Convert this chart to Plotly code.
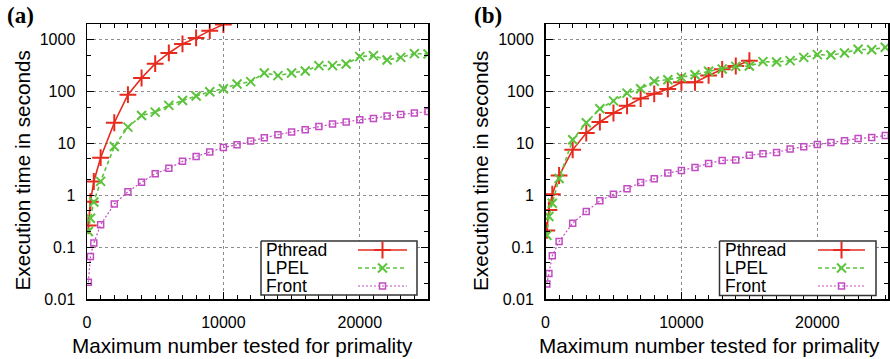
import plotly.graph_objects as go

# ---------------- data ----------------
x_vals = [100, 250, 500, 1000, 2000, 3000, 4000, 5000, 6000, 7000, 8000, 9000, 10000,
          11000, 12000, 13000, 14000, 15000, 16000, 17000, 18000, 19000, 20000,
          21000, 22000, 23000, 24000, 25000]

a_pthread = [0.26, 0.75, 1.84, 5.3, 25, 87, 182, 344, 553, 826, 1080, 1490, 1950]
a_lpel = [0.2, 0.36, 0.74, 1.85, 8.7, 20.6, 34.5, 40, 54, 67, 82, 99, 113,
          139, 155, 228, 202, 228, 248, 315, 315, 340, 470, 492, 405, 455, 537, 530]
a_front = [0.021, 0.066, 0.12, 0.27, 0.68, 1.17, 1.78, 2.6, 3.3, 4.5, 5.6, 6.8, 8.3,
           9.4, 11.1, 12.8, 14.7, 16.5, 18.3, 21.2, 23.6, 25.8, 28.6, 30.3, 33.6, 36, 38.5, 41]

b_pthread = [0.21, 0.52, 1.05, 2.4, 7.5, 15.8, 25.8, 38.5, 53, 73, 90, 112, 150,
             150, 204, 268, 310, 393]
b_lpel = [0.17, 0.39, 0.70, 2.1, 11.7, 25, 46.5, 66, 93, 113, 157, 169, 187,
          211, 245, 272, 305, 310, 376, 370, 393, 455, 513, 505, 553, 650, 640, 710]
b_front = [0.0195, 0.031, 0.068, 0.128, 0.29, 0.485, 0.78, 1.05, 1.33, 1.76, 2.07, 2.67, 3.0,
           3.43, 4.1, 4.7, 4.8, 5.9, 6.3, 6.7, 7.8, 8.6, 9.5, 10.4, 11.2, 12.4, 13, 14.2]

series_names = ["Pthread", "LPEL", "Front"]
y_tickvals = [0.01, 0.1, 1, 10, 100, 1000]
y_ticktext = ["0.01", "0.1", "1", "10", "100", "1000"]
x_tickvals = [0, 10000, 20000]
x_ticktext = ["0", "10000", "20000"]
panel_labels = ["(a)", "(b)"]
x_title = "Maximum number tested for primality"
y_title = "Execution time in seconds"

# ---------------- styles ----------------
W, H = 890, 359
RED = "#e62a1e"
GREEN = "#5cc43c"
MAG = "#c24cc2"
styles = {
    "Pthread": dict(line=dict(color=RED, width=1.6, dash="solid"),
                    marker=dict(symbol="cross-thin", size=12, color=RED,
                                line=dict(color=RED, width=2))),
    "LPEL": dict(line=dict(color=GREEN, width=1.6, dash="4px,3px"),
                 marker=dict(symbol="x-thin", size=9, color=GREEN,
                             line=dict(color=GREEN, width=2))),
    "Front": dict(line=dict(color=MAG, width=1.2, dash="2px,2px"),
                  marker=dict(symbol="square-open", size=6, color=MAG,
                              line=dict(color=MAG, width=1.5))),
}

FONT = "Liberation Sans, Arial, sans-serif"

fig = go.Figure()

panels = [
    dict(xa="x", ya="y", data=[a_pthread, a_lpel, a_front]),
    dict(xa="x2", ya="y2", data=[b_pthread, b_lpel, b_front]),
]
for p in panels:
    for name, vals in zip(series_names, p["data"]):
        fig.add_trace(go.Scatter(x=x_vals[:len(vals)], y=vals, mode="lines+markers",
                                 name=name, xaxis=p["xa"], yaxis=p["ya"],
                                 showlegend=False, **styles[name]))

# plot areas in pixels
left_px = (87, 428)
right_px = (545.5, 888)
top_px, bot_px = 24, 299

def fx(px):
    return px / W

def fy(py):
    return (H - py) / H

common_x = dict(
    type="linear", showline=True, linecolor="black", linewidth=1.5, mirror="allticks",
    ticks="inside", ticklen=7, tickwidth=1, tickcolor="black",
    tickvals=x_tickvals, ticktext=x_ticktext, automargin=False,
    showgrid=True, gridcolor="#8c8c8c", griddash="dot", gridwidth=1.2,
    zeroline=False, tickfont=dict(family=FONT, size=16, color="black"),
    ticklabelstandoff=8,
    minor=dict(ticks="inside", ticklen=4, tickcolor="black", dtick=1000, showgrid=False),
)
common_y = dict(
    type="log", showline=True, linecolor="black", linewidth=1.5, mirror="allticks",
    ticks="inside", ticklen=7, tickwidth=1, tickcolor="black",
    tickvals=y_tickvals, ticktext=y_ticktext, range=[-2, 3.301], automargin=False,
    showgrid=True, gridcolor="#8c8c8c", griddash="dot", gridwidth=1.2,
    zeroline=False, tickfont=dict(family=FONT, size=16, color="black"),
    ticklabelstandoff=7,
    minor=dict(ticks="inside", ticklen=4, tickcolor="black", showgrid=False),
)

fig.update_layout(
    width=W, height=H,
    margin=dict(l=0, r=0, t=0, b=0, pad=0, autoexpand=False),
    paper_bgcolor="white", plot_bgcolor="rgba(0,0,0,0)",
    showlegend=False,
    xaxis=dict(common_x, domain=[fx(left_px[0]), fx(left_px[1])], range=[0, 25000], anchor="y"),
    yaxis=dict(common_y, domain=[fy(bot_px), fy(top_px)], anchor="x"),
    xaxis2=dict(common_x, domain=[fx(right_px[0]), fx(right_px[1])], range=[0, 25200], anchor="y2"),
    yaxis2=dict(common_y, domain=[fy(bot_px), fy(top_px)], anchor="x2"),
    xaxis3=dict(domain=[0, 1], range=[0, W], visible=False, anchor="y3", fixedrange=True,
                automargin=False, showticklabels=False, showgrid=False, zeroline=False),
    yaxis3=dict(domain=[0, 1], range=[H, 0], visible=False, anchor="x3", fixedrange=True,
                automargin=False, showticklabels=False, showgrid=False, zeroline=False),
)

# ---------------- legends (drawn manually, gnuplot style) ----------------
legend_boxes = [
    dict(box=(261, 417, 241, 295), text_x=265, line=(358, 407)),
    dict(box=(719.5, 876, 241, 295.5), text_x=724, line=(818, 865)),
]
row_y = [250, 268, 286]
annotations = []
for lb in legend_boxes:
    x0, x1, y0, y1 = lb["box"]
    fig.add_trace(go.Scatter(x=[x0, x1, x1, x0, x0], y=[y0, y0, y1, y1, y0],
                             mode="lines", fill="toself", fillcolor="white",
                             line=dict(color="#333333", width=1.5),
                             xaxis="x3", yaxis="y3", hoverinfo="skip", showlegend=False))
    for name, ry in zip(series_names, row_y):
        lx0, lx1 = lb["line"]
        st = styles[name]
        fig.add_trace(go.Scatter(x=[lx0, lx1], y=[ry, ry], mode="lines",
                                 line=st["line"], xaxis="x3", yaxis="y3",
                                 hoverinfo="skip", showlegend=False))
        fig.add_trace(go.Scatter(x=[(lx0 + lx1) / 2], y=[ry], mode="markers",
                                 marker=st["marker"], xaxis="x3", yaxis="y3",
                                 hoverinfo="skip", showlegend=False))
        annotations.append(dict(x=fx(lb["text_x"]), y=fy(ry), xref="paper", yref="paper",
                                text=name, showarrow=False, xanchor="left", yanchor="middle",
                                borderpad=0,
                                font=dict(family=FONT, size=17.5, color="black")))

# axis titles and panel labels
for (px0, px1), xt_c, lab_x, lab in zip([left_px, right_px], [242.5, 709], [5, 472], panel_labels):
    annotations.append(dict(x=fx(xt_c), y=fy(345), xref="paper", yref="paper",
                            text=x_title, showarrow=False, xanchor="center", yanchor="middle",
                            font=dict(family=FONT, size=20.7, color="black")))
    annotations.append(dict(x=fx(px0 - 65.5), y=fy(171), xref="paper", yref="paper",
                            text=y_title, showarrow=False, xanchor="center", yanchor="middle",
                            textangle=-90, font=dict(family=FONT, size=20.7, color="black")))
    annotations.append(dict(x=fx(lab_x), y=fy(16), xref="paper", yref="paper",
                            text="<b>" + lab + "</b>", showarrow=False, xanchor="left",
                            yanchor="middle",
                            font=dict(family="Liberation Serif, Times New Roman, serif",
                                      size=23, color="black")))

fig.update_layout(annotations=annotations)
fig.write_html(
    "out.html",
    config={"displayModeBar": False, "staticPlot": True},
    post_script=(
        "document.documentElement.style.cssText='margin:0;padding:0;overflow:hidden;height:359px';"
        "document.body.style.cssText='margin:0;padding:0;overflow:hidden;height:359px';"
    ),
)
